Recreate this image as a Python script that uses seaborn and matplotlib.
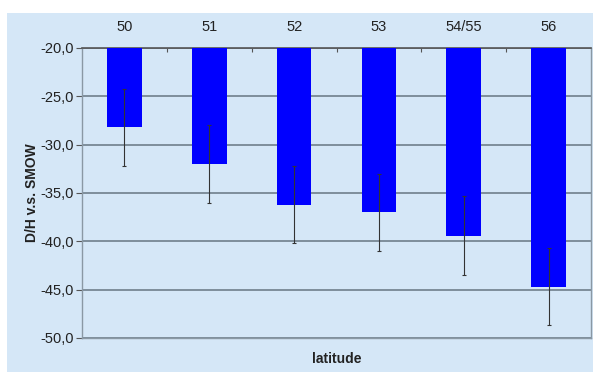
import matplotlib
matplotlib.use("Agg")
import matplotlib.pyplot as plt
from matplotlib.patches import Rectangle
from matplotlib.ticker import FuncFormatter, FixedLocator
import seaborn as sns
import pandas as pd

latitudes = ["50", "51", "52", "53", "54/55", "56"]
dh_values = [-28.2, -32.0, -36.2, -37.0, -39.4, -44.7]
dh_errors = [4.0, 4.0, 4.0, 4.0, 4.1, 4.0]

bg = "#d5e7f7"
sns.set_theme(style="white")
plt.rcParams["font.family"] = ["Liberation Sans", "DejaVu Sans"]

fig = plt.figure(figsize=(5.93, 3.72), dpi=100)
fig.patch.set_facecolor("white")
fig.patches.append(Rectangle((7 / 593, 0), 1 - 7 / 593, 1 - 13 / 372,
                             transform=fig.transFigure, facecolor=bg,
                             edgecolor="none", zorder=-10))

ax = fig.add_axes([82 / 593, 1 - 338 / 372, 509 / 593, 290 / 372])
ax.set_zorder(5)
ax.set_facecolor(bg)

df = pd.DataFrame({"latitude": latitudes, "dh": dh_values})
sns.barplot(data=df, x="latitude", y="dh", color="#0000ff", saturation=1,
            width=0.41, errorbar=None, ax=ax, zorder=3, linewidth=0)
ax.errorbar(range(len(latitudes)), dh_values, yerr=dh_errors, fmt="none",
            ecolor="#333333", elinewidth=0.8, capsize=1.5, capthick=0.8,
            zorder=4)

ax.set_ylim(-50, -20)
ax.set_xlim(-0.5, len(latitudes) - 0.5)
ax.set_yticks([-20, -25, -30, -35, -40, -45, -50])
ax.yaxis.set_major_formatter(FuncFormatter(lambda v, p: f"{v:.1f}".replace(".", ",")))
ax.yaxis.grid(True, color="#6f7f8c", linewidth=1.2, zorder=1)
ax.set_axisbelow(True)

ax.xaxis.tick_top()
ax.tick_params(axis="x", which="major", length=0, pad=10, labelsize=10.5, labelcolor="#222222")
ax.xaxis.set_minor_locator(FixedLocator([0.5, 1.5, 2.5, 3.5, 4.5]))
ax.tick_params(axis="x", which="minor", top=True, direction="in", length=3,
               color="#555555", width=0.8)
ax.tick_params(axis="y", which="major", left=True, length=4, width=0.8,
               color="#555555", labelsize=10.5, labelcolor="#222222", pad=2)

for side in ["left", "right", "bottom"]:
    ax.spines[side].set_color("#8a98a4")
    ax.spines[side].set_linewidth(1.0)
ax.spines["top"].set_color("#555555")
ax.spines["top"].set_linewidth(1.2)

ax.set_xlabel("latitude", fontsize=10, fontweight="bold", color="#222222", labelpad=10)
ax.xaxis.set_label_position("bottom")
ax.set_ylabel("D/H v.s. SMOW", fontsize=10, fontweight="bold", color="#222222", labelpad=1)

fig.savefig("out.png", dpi=100)
